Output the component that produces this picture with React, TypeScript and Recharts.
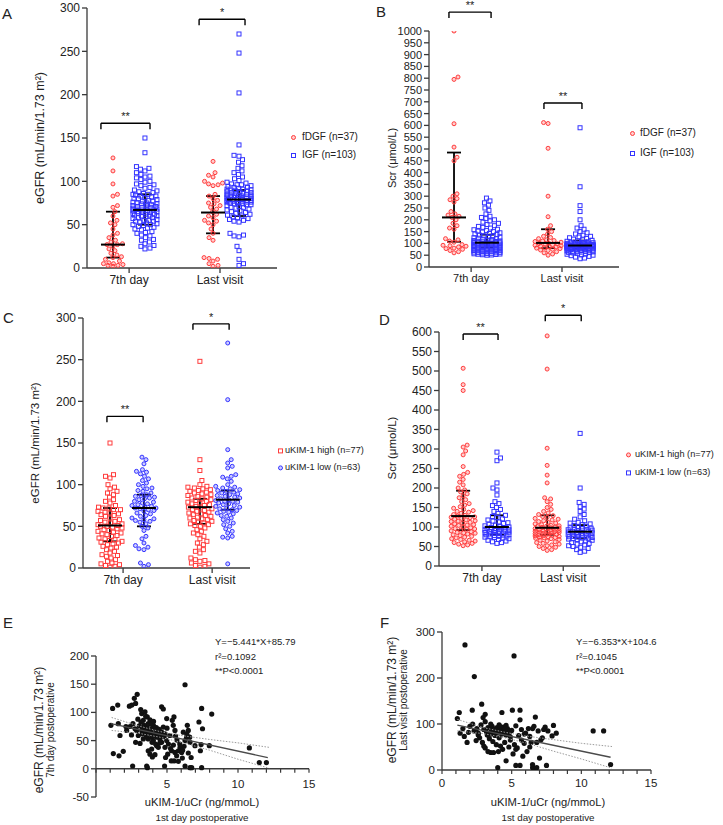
import React from "react";
import { ScatterChart, Scatter, XAxis, YAxis, ErrorBar, ReferenceLine, ReferenceDot } from "recharts";

const FONT = '"Liberation Sans", Arial, Helvetica, sans-serif';
const RED = "#ff3d3d";
const BLUE = "#3434ff";
const INK = "#222";
const AXIS = "#3a3a3a";

// ---------- shared labels ----------
const timepoints = ["7th day", "Last visit"];
const dgfNames = ["fDGF (n=37)", "IGF (n=103)"];
const kimNames = ["uKIM-1 high (n=77)", "uKIM-1 low (n=63)"];

// ---------- A: eGFR by DGF ----------
const egfrFdgf7 = [2,3,3,4,5,5,6,8,10,12,13,15,17,20,22,25,27,27,28,30,32,35,38,40,45,50,52,55,60,65,70,72,83,85,97,112,127];
const egfrIgf7 = [150,133,117,115,114,112,110,108,106,105,104,102,100,99,97,96,95,93,92,90,89,88,87,86,85,85,84,83,82,81,80,80,79,78,77,76,75,75,74,73,72,72,71,70,70,69,68,68,67,67,66,65,65,64,63,62,62,61,60,60,59,58,57,56,55,55,54,53,52,51,50,50,49,48,47,46,45,44,42,41,40,38,37,35,33,32,30,28,26,25,23,22,66,71,63,58,77,83,69,61,54,74,64];
const egfrFdgfLast = [123,110,107,105,100,98,97,96,95,85,83,80,78,75,74,72,70,68,65,62,60,58,55,54,52,50,45,40,35,32,12,11,10,8,5,3,2];
const egfrIgfLast = [270,248,202,142,130,129,125,122,118,115,112,110,108,105,103,101,99,98,97,96,96,95,94,93,93,92,91,90,90,89,88,88,87,86,86,85,84,84,83,83,82,81,81,80,80,79,79,79,78,78,77,77,76,76,75,75,74,73,73,72,71,70,70,69,68,67,66,65,64,63,62,61,60,59,58,57,56,55,54,53,40,38,37,36,25,20,10,5,3,82,85,78,80,91,76,74,87,83,79,81,84,77,89];
// median, q1, q3
const egfrDgfStats = [[27, 12, 65], [67, 50, 85], [64, 40, 83], [79, 60, 90]];
const egfrDgfSig = ["**", "*"];

// ---------- B: Scr by DGF ----------
const scrFdgf7 = [1000,805,795,607,508,465,450,310,300,290,285,275,235,225,220,215,210,200,185,175,165,160,120,115,110,105,95,92,90,88,85,80,78,75,70,65,60];
const scrIgf7 = [292,280,272,262,250,240,225,215,210,205,200,195,190,185,180,175,172,168,165,160,158,155,152,150,148,145,142,140,138,135,132,130,128,126,124,122,120,118,116,114,112,110,109,108,107,106,105,104,103,102,101,100,99,98,97,96,95,94,93,92,91,90,89,88,87,86,85,84,83,82,81,80,79,78,77,76,75,74,73,72,71,70,69,68,67,66,65,64,63,62,61,60,59,58,57,56,55,54,53,52,51,50,100];
const scrFdgfLast = [612,608,503,300,213,175,160,150,140,130,125,120,115,110,108,105,102,100,98,96,95,92,90,88,86,85,82,80,78,75,72,70,65,60,55,50,112];
const scrIgfLast = [590,340,260,235,200,175,165,160,150,145,140,135,130,127,124,121,118,115,113,111,109,107,105,104,103,102,101,100,99,98,97,96,95,95,94,93,93,92,91,91,90,90,89,88,88,87,87,86,85,85,84,83,83,82,81,80,80,79,78,78,77,76,75,75,74,73,72,71,70,69,68,67,66,65,64,63,62,61,60,58,56,54,52,50,48,45,42,38,35,92,94,89,86,90,96,88,84,81,77,93,87,91,95];
const scrDgfStats = [[210, 107, 485], [103, 83, 137], [102, 80, 160], [91, 78, 112]];
const scrDgfSig = ["**", "**"];

// ---------- C: eGFR by uKIM-1 ----------
const egfrHigh7 = [150,112,110,108,100,97,95,92,90,88,85,82,80,78,75,73,72,72,70,70,68,67,66,65,64,63,62,60,58,57,56,55,54,53,52,51,50,50,49,48,47,46,45,44,43,42,41,40,39,38,36,35,34,33,32,31,30,29,28,26,25,24,22,20,18,16,15,14,12,10,8,6,5,4,3,2,1];
const egfrLow7 = [133,130,125,118,116,115,113,110,107,105,102,100,98,96,95,93,92,90,88,87,86,85,84,83,82,80,79,78,77,76,75,74,73,72,72,71,70,69,68,66,65,63,62,60,59,58,57,56,55,53,50,48,45,38,35,30,27,25,23,22,6,4,2];
const egfrHighLast = [248,130,117,105,100,98,97,96,95,94,93,92,91,90,89,88,87,86,85,84,83,82,81,80,79,78,77,76,75,74,73,72,71,70,69,68,67,66,65,64,63,62,61,60,59,58,57,56,55,54,53,52,51,50,48,46,44,42,40,38,35,32,30,28,25,22,20,18,12,10,9,8,6,5,3,2,1];
const egfrLowLast = [270,202,142,130,126,122,120,112,110,109,107,104,100,98,97,96,95,94,93,92,91,90,89,88,87,86,85,84,83,82,81,80,80,79,78,77,76,75,74,73,72,71,70,69,68,67,66,65,63,62,60,58,56,54,52,50,47,44,42,38,37,36,5];
const egfrKimStats = [[51, 32, 72], [72, 50, 88], [73, 53, 83], [82, 70, 93]];
const egfrKimSig = ["**", "*"];

// ---------- D: Scr by uKIM-1 ----------
const scrHigh7 = [507,465,450,310,305,295,285,255,240,235,230,222,215,208,200,195,190,185,180,175,170,165,160,156,152,148,145,142,140,138,135,132,130,128,126,124,122,120,118,116,114,112,110,108,106,104,102,100,98,96,94,92,90,88,86,84,82,80,78,76,74,72,70,68,66,64,62,60,58,56,54,52,125,115,105,95,85];
const scrLow7 = [292,277,270,213,200,195,182,165,160,155,150,145,140,135,130,127,124,121,118,115,113,111,109,107,105,103,101,100,99,98,97,96,95,94,93,92,91,90,89,88,87,86,85,84,83,82,81,80,79,78,77,76,75,74,73,72,70,68,66,64,62,60,58];
const scrHighLast = [590,505,302,258,233,213,175,172,165,158,150,145,140,136,132,129,127,125,122,120,118,116,114,112,110,108,106,104,103,102,101,100,99,98,97,96,95,94,93,92,91,90,89,88,87,86,85,84,83,82,81,80,79,78,77,76,75,74,73,72,71,70,68,66,64,62,60,58,56,54,52,50,48,45,42,40,88];
const scrLowLast = [340,200,163,158,152,146,140,132,126,120,116,112,110,108,106,104,102,100,98,97,96,95,94,93,92,91,90,89,88,87,86,85,84,83,82,81,80,79,78,77,76,75,74,73,72,71,70,69,68,66,64,62,60,58,56,54,52,50,48,45,42,38,35];
const scrKimStats = [[128, 92, 193], [100, 80, 130], [98, 80, 130], [88, 72, 105]];
const scrKimSig = ["**", "*"];

// ---------- E: uKIM-1/uCr vs 7th-day eGFR ----------
const eScatter = [
  [1.05,77],[1.17,107],[1.53,113],[1.57,80],[1.22,27],[1.62,23],[1.92,31],[1.69,59],[2.11,75],[2.16,68],
  [2.35,111],[2.52,113],[2.7,125],[2.9,132],[2.79,116],[2.58,5],[2.75,71],[2.86,68],[2.79,47],[3.1,45],
  [2.98,59],[3.22,98],[3.45,101],[3.33,86],[3.61,92],[3.8,87],[3.17,83],[3.4,77],[3.57,74],[3.68,80],
  [3.92,71],[4.04,77],[3.8,65],[3.45,65],[3.22,68],[3.64,62],[4.15,62],[4.27,68],[4.39,59],[3.92,56],
  [3.68,53],[3.33,53],[4.04,50],[4.5,53],[4.62,65],[4.74,74],[4.62,110],[4.74,106],[4.98,89],[4.86,62],
  [4.98,50],[4.86,38],[4.62,47],[4.27,41],[3.92,35],[3.68,32],[3.8,26],[3.97,21],[4.15,25],[4.39,38],
  [5.2,59],[5.37,86],[5.49,92],[5.44,77],[5.56,68],[5.32,32],[5.56,29],[5.8,32],[6.03,29],[5.5,14],
  [5.3,14],[5.68,23],[5.92,38],[6.15,65],[6.27,50],[6.43,77],[6.5,68],[6.38,56],[6.62,47],[6.97,41],
  [7.4,43],[7.98,41],[7.35,32],[7.25,83],[7.44,107],[7.5,71],[8.15,97],[6.27,149],[6.27,5],[6.62,2],
  [6.74,2],[7.44,2],[3.57,5],[3.62,2],[4.83,5],[10.8,37],[11.5,11],[12.0,11],[6.08,19],[5.8,13],
  [3.3,72],[3.5,70],[3.7,68],[3.9,64],[4.1,58],[4.3,56],[4.4,63],[3.55,57],[3.95,47],[4.2,44],
  [4.5,46],[3.85,79],[4.05,84],[4.25,73],[4.45,70],[4.6,60],[4.8,57],[5.0,72],[5.1,44],[3.25,62],
  [3.05,76],[2.95,88],[3.15,105],[3.5,93],[2.6,80],[2.4,75],[2.5,60],[5.7,51],[5.6,58],[5.9,44],
  [6.2,40],[6.5,28],[6.6,56],[6.7,20],[4.9,20],[5.05,26],[5.25,36],[5.45,42],[6.4,61],[6.1,33],
];
const eFitCoef = [-5.441, 85.79];
const eFitRange = [1.05, 12.1];
const eCiX = [1.1, 3, 4.5, 6, 8, 10, 12.2];
const eCiUpper = [91, 76, 66, 59, 52, 46, 38];
const eCiLower = [68, 63, 56, 47, 33, 17, 1];
const eNotes = ["Y=\u22125.441*X+85.79", "r\u00b2=0.1092", "**P<0.0001"];

// ---------- F: uKIM-1/uCr vs last-visit eGFR ----------
const fScatter = [
  [1.65,272],[5.17,248],[2.32,203],[1.1,112],[1.24,125],[2.17,130],[2.85,143],[5.6,130],[4.3,125],[3.1,121],
  [2.95,114],[5.6,109],[10.85,85],[11.6,85],[12.1,12],[4.0,5],[5.3,10],[5.6,10],[6.5,5],[6.6,3],
  [6.8,5],[7.5,10],[4.6,20],[7.0,26],[6.5,12],[3.1,48],[3.5,38],[3.7,38],[4.8,50],[5.3,45],
  [6.3,50],[6.8,60],[7.4,93],[8.0,97],[7.9,74],[7.2,70],[1.8,60],[1.6,73],[1.3,80],[1.5,90],
  [2.0,95],[2.3,85],[2.6,80],[2.8,98],[3.0,88],[3.2,82],[3.3,92],[3.5,78],[3.6,95],[3.7,85],
  [3.8,75],[3.9,90],[4.0,82],[4.1,70],[4.2,88],[4.3,78],[4.4,93],[4.5,84],[4.6,76],[4.7,90],
  [4.8,80],[4.9,72],[5.0,86],[3.4,68],[3.65,62],[3.9,55],[4.2,52],[4.5,60],[4.05,40],[2.7,70],
  [2.9,60],[3.0,52],[5.5,75],[5.7,65],[5.9,58],[6.0,80],[6.2,90],[6.4,60],[6.6,95],[6.7,115],
  [6.9,85],[7.1,66],[7.3,88],[5.2,55],[5.4,48],[5.1,35],[5.8,30],[6.1,40],[4.35,45],[3.3,40],
  [2.5,90],[2.2,100],[3.1,105],[3.5,100],[4.1,98],[4.6,97],[5.3,96],[5.7,88],[3.8,84],[4.0,88],
  [4.25,83],[4.45,86],[4.65,80],[4.85,84],[3.55,86],[3.25,76],[3.7,80],[5.9,78],[6.3,73],[1.9,82],
  [2.6,76],[6.5,90],[5.05,130],[4.9,65],[7.6,85],[8.2,80],[3.95,92],[4.15,95],[4.55,89],[2.45,64],
];
const fFitCoef = [-6.353, 104.6];
const fFitRange = [1.1, 12.1];
const fCiX = [1.1, 3, 4.5, 6, 8, 10, 12.2];
const fCiUpper = [110, 92, 82, 74, 66, 58, 51];
const fCiLower = [85, 79, 70, 59, 41, 24, 4];
const fNotes = ["Y=\u22126.353*X+104.6", "r\u00b2=0.1045", "**P<0.0001"];

const xMinorTicks = [0,1,2,3,4,5,6,7,8,9,10,11,12,13,14,15];

// ---------- helpers ----------
// beeswarm within a capped half-width: take the nearest free spot, else the least crowded one
function swarm(vals: number[], yPx: number, dia: number, maxHalf: number): number[] {
  const order = vals.map((_, i) => i).sort((a, b) => vals[a] - vals[b]);
  const placed: number[][] = [];
  const out: number[] = new Array(vals.length).fill(0);
  const steps = Math.floor(maxHalf / 0.5);
  order.forEach((i, n) => {
    const py = vals[i] * yPx;
    const near = placed.filter((p) => Math.abs(p[1] - py) < dia);
    const dir = n % 2 === 0 ? 1 : -1;
    let best = 0;
    let bestCost = Infinity;
    for (let k = 0; k <= steps * 2; k++) {
      const c = dir * (k % 2 === 0 ? 1 : -1) * Math.ceil(k / 2) * 0.5;
      let cost = 0;
      for (const p of near) {
        const d = Math.hypot(p[0] - c, p[1] - py);
        if (d < dia) cost += dia - d;
      }
      if (cost < bestCost - 1e-9) {
        bestCost = cost;
        best = c;
      }
      if (cost === 0) break;
    }
    placed.push([best, py]);
    out[i] = best;
  });
  return out;
}

const Circle = (color: string) => (p: any) => (
  <circle cx={p.cx} cy={p.cy} r={2} fill={color} fillOpacity={0.25} stroke={color} strokeWidth={1} />
);
const Square = (color: string) => (p: any) => (
  <rect x={p.cx - 2} y={p.cy - 2} width={4} height={4} fill="none" stroke={color} strokeWidth={1} />
);
const MedianBar = (p: any) => (
  <line x1={p.cx - 12} x2={p.cx + 12} y1={p.cy} y2={p.cy} stroke="#000" strokeWidth={2} />
);
const NoDot = () => <g />;

function Txt({ x, y, size, children, rotate = false, anchor = "start" }: any) {
  const style: React.CSSProperties = {
    position: "absolute",
    left: x,
    top: y,
    fontSize: size,
    lineHeight: 1,
    whiteSpace: "nowrap",
    color: INK,
    transform: rotate
      ? "translate(-50%, -50%) rotate(-90deg)"
      : anchor === "middle"
      ? "translate(-50%, -50%)"
      : "translateY(-50%)",
  };
  return <div style={style}>{children}</div>;
}

function Marker({ shape, color }: { shape: string; color: string }) {
  return (
    <svg width={7} height={7} style={{ flex: "none" }}>
      {shape === "circle" ? (
        <circle cx={3.5} cy={3.5} r={2} fill={color} fillOpacity={0.25} stroke={color} strokeWidth={1} />
      ) : (
        <rect x={1.5} y={1.5} width={4} height={4} fill="none" stroke={color} strokeWidth={1} />
      )}
    </svg>
  );
}

function DotLegend({ x, y, gap, names, shapes, size, space }: any) {
  return (
    <>
      {names.map((n: string, i: number) => (
        <div
          key={n}
          style={{
            position: "absolute",
            left: x,
            top: y + i * gap,
            transform: "translateY(-50%)",
            display: "flex",
            alignItems: "center",
            gap: space,
            fontSize: size,
            color: INK,
            whiteSpace: "nowrap",
            lineHeight: 1,
          }}
        >
          <Marker shape={shapes[i]} color={i === 0 ? RED : BLUE} />
          <span>{n}</span>
        </div>
      ))}
    </>
  );
}

type Bracket = { from: number; to: number; y: number };
type DotCfg = {
  box: number[]; // left, top, width, height
  yAxisWidth: number;
  margin: { top: number; right: number; bottom: number; left: number };
  xDomain: number[];
  slots: number[];
  tickPos: number[];
  yDomain: number[];
  yTicks: number[];
  groups: number[][];
  stats: number[][];
  shapes: string[];
  sig: string[];
  brackets: Bracket[];
  tickFont: number;
  dia: number;
  half: number;
};

function DotPanel({ cfg }: { cfg: DotCfg }) {
  const [left, top, width, height] = cfg.box;
  const X_H = 22;
  const plotW = width - cfg.yAxisWidth - cfg.margin.left - cfg.margin.right;
  const plotH = height - cfg.margin.top - cfg.margin.bottom - X_H;
  const xPx = plotW / (cfg.xDomain[1] - cfg.xDomain[0]);
  const yPx = plotH / (cfg.yDomain[1] - cfg.yDomain[0]);
  const series = cfg.groups.map((vals, g) => {
    const off = swarm(vals, yPx, cfg.dia, cfg.half);
    return vals.map((v, i) => ({ x: cfg.slots[g] + off[i] / xPx, y: v }));
  });
  const summary = cfg.stats.map(([m, lo, hi], g) => ({ x: cfg.slots[g], y: m, err: [m - lo, hi - m] }));
  const drop = 6 / yPx;
  return (
    <div style={{ position: "absolute", left, top }}>
      <ScatterChart width={width} height={height} margin={cfg.margin}>
        <XAxis
          type="number"
          dataKey="x"
          domain={cfg.xDomain}
          ticks={cfg.tickPos}
          interval={0}
          allowDataOverflow
          tickFormatter={(v: number) => timepoints[cfg.tickPos.indexOf(v)] ?? ""}
          height={X_H}
          tickSize={5}
          tickMargin={2}
          axisLine={{ stroke: AXIS, strokeWidth: 1.3 }}
          tickLine={{ stroke: AXIS, strokeWidth: 1.3 }}
          tick={{ fill: INK, fontSize: cfg.tickFont }}
        />
        <YAxis
          type="number"
          dataKey="y"
          domain={cfg.yDomain}
          ticks={cfg.yTicks}
          interval={0}
          allowDataOverflow
          width={cfg.yAxisWidth}
          tickSize={5}
          tickMargin={2}
          axisLine={{ stroke: AXIS, strokeWidth: 1.3 }}
          tickLine={{ stroke: AXIS, strokeWidth: 1.3 }}
          tick={{ fill: INK, fontSize: cfg.tickFont }}
        />
        {series.map((d, g) => {
          const color = g % 2 === 0 ? RED : BLUE;
          const shape = cfg.shapes[g % 2] === "circle" ? Circle(color) : Square(color);
          return <Scatter key={g} data={d} shape={shape} isAnimationActive={false} />;
        })}
        <Scatter data={summary} shape={MedianBar} isAnimationActive={false}>
          <ErrorBar dataKey="err" direction="y" width={7} stroke="#000" strokeWidth={1.8} isAnimationActive={false} />
        </Scatter>
        {cfg.brackets.map((b, i) => (
          <React.Fragment key={i}>
            <ReferenceLine
              segment={[{ x: b.from, y: b.y }, { x: b.to, y: b.y }]}
              stroke="#000"
              strokeWidth={1.4}
              ifOverflow="visible"
            />
            <ReferenceLine
              segment={[{ x: b.from, y: b.y }, { x: b.from, y: b.y - drop }]}
              stroke="#000"
              strokeWidth={1.4}
              ifOverflow="visible"
            />
            <ReferenceLine
              segment={[{ x: b.to, y: b.y }, { x: b.to, y: b.y - drop }]}
              stroke="#000"
              strokeWidth={1.4}
              ifOverflow="visible"
            />
            <ReferenceDot
              x={(b.from + b.to) / 2}
              y={b.y}
              r={0}
              fill="none"
              stroke="none"
              ifOverflow="visible"
              label={{ value: cfg.sig[i], position: "top", offset: 3, fontSize: 11, fill: INK }}
            />
          </React.Fragment>
        ))}
      </ScatterChart>
    </div>
  );
}

type ScatterCfg = {
  box: number[];
  yAxisWidth: number;
  margin: { top: number; right: number; bottom: number; left: number };
  xAxisHeight: number;
  yDomain: number[];
  yTicks: number[];
  xLabels: number[];
  points: number[][];
  coef: number[];
  range: number[];
  ciX: number[];
  ciUp: number[];
  ciLo: number[];
  axisAtZero: boolean;
  labelGap: number;
};

function FitPanel({ cfg }: { cfg: ScatterCfg }) {
  const [left, top, width, height] = cfg.box;
  const plotH = height - cfg.margin.top - cfg.margin.bottom - cfg.xAxisHeight;
  const shift = cfg.axisAtZero ? (plotH * (0 - cfg.yDomain[0])) / (cfg.yDomain[1] - cfg.yDomain[0]) : 0;
  const pts = cfg.points.map(([x, y]) => ({ x, y }));
  const fit = cfg.range.map((x) => ({ x, y: cfg.coef[0] * x + cfg.coef[1] }));
  const up = cfg.ciX.map((x, i) => ({ x, y: cfg.ciUp[i] }));
  const lo = cfg.ciX.map((x, i) => ({ x, y: cfg.ciLo[i] }));
  const renderTick = (p: any) => {
    const y0 = p.y - shift;
    const v = p.payload.value;
    return (
      <g>
        <line x1={p.x} x2={p.x} y1={y0} y2={y0 + 4} stroke={AXIS} strokeWidth={1.2} />
        {cfg.xLabels.includes(v) && (
          <text x={p.x} y={y0 + cfg.labelGap} dy="0.71em" textAnchor="middle" fontSize={11.5} fill={INK}>
            {v}
          </text>
        )}
      </g>
    );
  };
  return (
    <div style={{ position: "absolute", left, top }}>
      <ScatterChart width={width} height={height} margin={cfg.margin}>
        <XAxis
          type="number"
          dataKey="x"
          domain={[0, 15]}
          ticks={xMinorTicks}
          interval={0}
          allowDataOverflow
          height={cfg.xAxisHeight}
          tickSize={0}
          tickMargin={0}
          axisLine={cfg.axisAtZero ? false : { stroke: AXIS, strokeWidth: 1.3 }}
          tickLine={false}
          tick={renderTick}
        />
        <YAxis
          type="number"
          dataKey="y"
          domain={cfg.yDomain}
          ticks={cfg.yTicks}
          interval={0}
          allowDataOverflow
          width={cfg.yAxisWidth}
          tickSize={5}
          tickMargin={2}
          axisLine={{ stroke: AXIS, strokeWidth: 1.3 }}
          tickLine={{ stroke: AXIS, strokeWidth: 1.3 }}
          tick={{ fill: INK, fontSize: 11.5 }}
        />
        {cfg.axisAtZero && (
          <ReferenceLine
            segment={[{ x: 0, y: 0 }, { x: 15, y: 0 }]}
            stroke={AXIS}
            strokeWidth={1.4}
            ifOverflow="visible"
          />
        )}
        <Scatter
          data={pts}
          shape={(p: any) => <circle cx={p.cx} cy={p.cy} r={2.6} fill="#111" />}
          isAnimationActive={false}
        />
        <Scatter
          data={up}
          shape={NoDot}
          line={{ stroke: "#9c9c9c", strokeWidth: 1, strokeDasharray: "1.5 1.5" }}
          lineType="joint"
          isAnimationActive={false}
        />
        <Scatter
          data={lo}
          shape={NoDot}
          line={{ stroke: "#9c9c9c", strokeWidth: 1, strokeDasharray: "1.5 1.5" }}
          lineType="joint"
          isAnimationActive={false}
        />
        <Scatter
          data={fit}
          shape={NoDot}
          line={{ stroke: "#4a4a4a", strokeWidth: 1.3 }}
          lineType="joint"
          isAnimationActive={false}
        />
      </ScatterChart>
    </div>
  );
}

// ---------- panel configs ----------
const panelA: DotCfg = {
  box: [0, 0, 360, 290],
  yAxisWidth: 87,
  margin: { top: 8, right: 83, bottom: 0, left: 0 },
  xDomain: [0, 6],
  slots: [0.82, 1.83, 3.98, 4.8],
  tickPos: [1.33, 4.2],
  yDomain: [0, 300],
  yTicks: [0, 50, 100, 150, 200, 250, 300],
  groups: [egfrFdgf7, egfrIgf7, egfrFdgfLast, egfrIgfLast],
  stats: egfrDgfStats,
  shapes: ["circle", "square"],
  sig: egfrDgfSig,
  brackets: [
    { from: 0.44, to: 1.99, y: 167 },
    { from: 3.54, to: 4.99, y: 287 },
  ],
  tickFont: 12,
  dia: 4.6,
  half: 12,
};

const panelB: DotCfg = {
  box: [360, 0, 363, 290],
  yAxisWidth: 69,
  margin: { top: 31, right: 104, bottom: 1, left: 0 },
  xDomain: [0, 6],
  slots: [0.79, 1.83, 3.76, 4.77],
  tickPos: [1.33, 4.2],
  yDomain: [0, 1000],
  yTicks: [0,50,100,150,200,250,300,350,400,450,500,550,600,650,700,750,800,850,900,950,1000],
  groups: [scrFdgf7, scrIgf7, scrFdgfLast, scrIgfLast],
  stats: scrDgfStats,
  shapes: ["circle", "square"],
  sig: scrDgfSig,
  brackets: [
    { from: 0.63, to: 1.96, y: 1080 },
    { from: 3.63, to: 4.83, y: 695 },
  ],
  tickFont: 11,
  dia: 4.4,
  half: 13,
};

const panelC: DotCfg = {
  box: [0, 290, 360, 300],
  yAxisWidth: 83,
  margin: { top: 28, right: 110, bottom: 0, left: 0 },
  xDomain: [0, 6],
  slots: [0.97, 2.19, 4.2, 5.2],
  tickPos: [1.44, 4.64],
  yDomain: [0, 300],
  yTicks: [0, 50, 100, 150, 200, 250, 300],
  groups: [egfrHigh7, egfrLow7, egfrHighLast, egfrLowLast],
  stats: egfrKimStats,
  shapes: ["square", "circle"],
  sig: egfrKimSig,
  brackets: [
    { from: 0.86, to: 2.16, y: 182 },
    { from: 3.95, to: 5.25, y: 293 },
  ],
  tickFont: 12,
  dia: 4.6,
  half: 12,
};

const panelD: DotCfg = {
  box: [360, 290, 363, 300],
  yAxisWidth: 79,
  margin: { top: 42, right: 123, bottom: 2, left: 0 },
  xDomain: [0, 6],
  slots: [0.9, 2.16, 4.03, 5.26],
  tickPos: [1.6, 4.63],
  yDomain: [0, 600],
  yTicks: [0,50,100,150,200,250,300,350,400,450,500,550,600],
  groups: [scrHigh7, scrLow7, scrHighLast, scrLowLast],
  stats: scrKimStats,
  shapes: ["circle", "square"],
  sig: scrKimSig,
  brackets: [
    { from: 0.9, to: 2.2, y: 595 },
    { from: 3.96, to: 5.3, y: 643 },
  ],
  tickFont: 12,
  dia: 4.4,
  half: 12,
};

const panelE: ScatterCfg = {
  box: [0, 590, 360, 235],
  yAxisWidth: 96,
  margin: { top: 66, right: 51, bottom: 0, left: 0 },
  xAxisHeight: 28,
  yDomain: [-50, 200],
  yTicks: [-50, 0, 50, 100, 150, 200],
  xLabels: [5, 10, 15],
  points: eScatter,
  coef: eFitCoef,
  range: eFitRange,
  ciX: eCiX,
  ciUp: eCiUpper,
  ciLo: eCiLower,
  axisAtZero: true,
  labelGap: 11,
};

const panelF: ScatterCfg = {
  box: [360, 590, 363, 235],
  yAxisWidth: 82,
  margin: { top: 42, right: 72, bottom: 31, left: 0 },
  xAxisHeight: 24,
  yDomain: [0, 300],
  yTicks: [0, 100, 200, 300],
  xLabels: [0, 5, 10, 15],
  points: fScatter,
  coef: fFitCoef,
  range: fFitRange,
  ciX: fCiX,
  ciUp: fCiUpper,
  ciLo: fCiLower,
  axisAtZero: false,
  labelGap: 9,
};

const egfrTitle = "eGFR (mL/min/1.73 m\u00b2)";
const scrTitle = "Scr (\u03bcmol/L)";
const xTitle = "uKIM-1/uCr (ng/mmoL)";
const xSub = "1st day postoperative";

export default function App() {
  return (
    <div style={{ position: "relative", width: 723, height: 825, background: "#fff", fontFamily: FONT, overflow: "hidden" }}>
      <style>{`body{margin:0}`}</style>

      <DotPanel cfg={panelA} />
      <DotPanel cfg={panelB} />
      <DotPanel cfg={panelC} />
      <DotPanel cfg={panelD} />
      <FitPanel cfg={panelE} />
      <FitPanel cfg={panelF} />

      {/* panel letters */}
      <Txt x={2} y={13} size={15}>A</Txt>
      <Txt x={376} y={11} size={15}>B</Txt>
      <Txt x={3} y={317} size={15}>C</Txt>
      <Txt x={379} y={319} size={15}>D</Txt>
      <Txt x={3} y={622} size={15}>E</Txt>
      <Txt x={380} y={622} size={15}>F</Txt>

      {/* axis titles */}
      <Txt x={40} y={138} size={12.5} rotate>{egfrTitle}</Txt>
      <Txt x={392} y={158} size={11} rotate>{scrTitle}</Txt>
      <Txt x={36} y={443} size={11.5} rotate>{egfrTitle}</Txt>
      <Txt x={393} y={448} size={11.5} rotate>{scrTitle}</Txt>

      <Txt x={39} y={730} size={12} rotate>{egfrTitle}</Txt>
      <Txt x={51} y={730} size={10} rotate>7th day postoperative</Txt>
      <Txt x={202} y={803} size={11.2} anchor="middle">{xTitle}</Txt>
      <Txt x={202} y={818} size={9.8} anchor="middle">{xSub}</Txt>

      <Txt x={392} y={700} size={12} rotate>{egfrTitle}</Txt>
      <Txt x={404} y={700} size={10} rotate>Last visit postoperative</Txt>
      <Txt x={548} y={803} size={11.2} anchor="middle">{xTitle}</Txt>
      <Txt x={548} y={818} size={9.8} anchor="middle">{xSub}</Txt>

      {/* legends */}
      <DotLegend x={290} y={137} gap={18} names={dgfNames} shapes={["circle", "square"]} size={10} space={5} />
      <DotLegend x={629} y={133} gap={20} names={dgfNames} shapes={["circle", "square"]} size={10} space={4} />
      <DotLegend x={277} y={451} gap={17} names={kimNames} shapes={["square", "circle"]} size={9.2} space={1} />
      <DotLegend x={625} y={455} gap={18} names={kimNames} shapes={["circle", "square"]} size={9.2} space={3} />

      {/* regression annotations */}
      {eNotes.map((t, i) => (
        <Txt key={t} x={215} y={642 + i * 14.5} size={9.5}>{t}</Txt>
      ))}
      {fNotes.map((t, i) => (
        <Txt key={t} x={576} y={642 + i * 14.5} size={9.5}>{t}</Txt>
      ))}
    </div>
  );
}
